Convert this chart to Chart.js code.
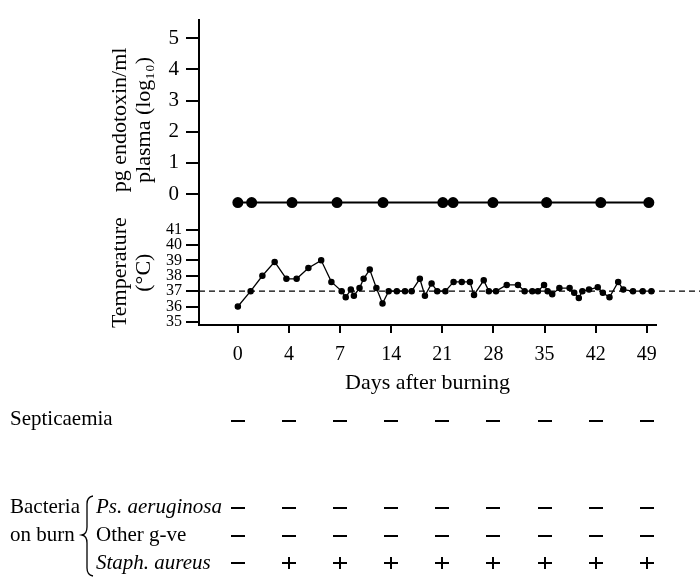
<!DOCTYPE html>
<html>
<head>
<meta charset="utf-8">
<script src="https://cdn.jsdelivr.net/npm/chart.js@4.4.1/dist/chart.umd.min.js"></script>
<style>
  html, body { margin: 0; padding: 0; background: #fff; }
</style>
</head>
<body>
<canvas id="fig" width="700" height="578"></canvas>
<script>
// day axis is not to scale: ticks are evenly spaced, x values below are in tick units
const dayLabels = ['0', '4', '7', '14', '21', '28', '35', '42', '49'];

const endoX = [0, 0.27, 1.06, 1.94, 2.84, 4.01, 4.21, 4.99, 6.04, 7.10, 8.04];
const endoY = [-0.27, -0.27, -0.27, -0.27, -0.27, -0.27, -0.27, -0.27, -0.27, -0.27, -0.27];

const tempX = [0, 0.25, 0.48, 0.72, 0.95, 1.15, 1.38, 1.63, 1.83, 2.03,
               2.11, 2.21, 2.27, 2.38, 2.46, 2.58, 2.71, 2.83, 2.95, 3.11,
               3.27, 3.40, 3.56, 3.66, 3.79, 3.90, 4.06, 4.22, 4.38, 4.54,
               4.62, 4.81, 4.91, 5.05, 5.26, 5.48, 5.61, 5.76, 5.87, 5.99,
               6.06, 6.15, 6.29, 6.49, 6.58, 6.67, 6.74, 6.87, 7.04, 7.14,
               7.27, 7.44, 7.54, 7.73, 7.92, 8.09];
const tempY = [36.0, 37.0, 38.0, 38.9, 37.8, 37.8, 38.5, 39.0, 37.6, 37.0,
               36.6, 37.1, 36.7, 37.2, 37.8, 38.4, 37.2, 36.2, 37.0, 37.0,
               37.0, 37.0, 37.8, 36.7, 37.5, 37.0, 37.0, 37.6, 37.6, 37.6,
               36.75, 37.7, 37.0, 37.0, 37.4, 37.4, 37.0, 37.0, 37.0, 37.4,
               37.0, 36.8, 37.2, 37.2, 36.9, 36.55, 37.0, 37.1, 37.25, 36.9,
               36.6, 37.6, 37.1, 37.0, 37.0, 37.0];

const endoTicks = [0, 1, 2, 3, 4, 5];
const tempTicks = [35, 36, 37, 38, 39, 40, 41];
const normalTemp = 37;

const septicaemia  = ['−', '−', '−', '−', '−', '−', '−', '−', '−'];
const psAeruginosa = ['−', '−', '−', '−', '−', '−', '−', '−', '−'];
const otherGve     = ['−', '−', '−', '−', '−', '−', '−', '−', '−'];
const staphAureus  = ['−', '+', '+', '+', '+', '+', '+', '+', '+'];

const serif = 'Liberation Serif';

const toPoints = (xs, ys) => xs.map((x, i) => ({ x: x, y: ys[i] }));

// dashed 37 °C line, runs past the axis to the page edge
const refLine = {
    id: 'refLine',
    beforeDatasetsDraw(chart) {
        const ctx = chart.ctx;
        const y = chart.scales.yT.getPixelForValue(normalTemp);
        ctx.save();
        ctx.strokeStyle = '#000';
        ctx.lineWidth = 1.3;
        ctx.setLineDash([6, 4]);
        ctx.beginPath();
        ctx.moveTo(chart.chartArea.left, y);
        ctx.lineTo(chart.width, y);
        ctx.stroke();
        ctx.restore();
    }
};

// culture results table under the day axis
const cultureTable = {
    id: 'cultureTable',
    afterDraw(chart) {
        const ctx = chart.ctx;
        const xs = chart.scales.x;
        ctx.save();
        ctx.fillStyle = '#000';
        ctx.textBaseline = 'middle';

        ctx.font = `21px "${serif}"`;
        ctx.textAlign = 'left';
        ctx.fillText('Septicaemia', 10, 419);
        ctx.fillText('Bacteria', 10, 507);
        ctx.fillText('on burn', 10, 535);
        ctx.fillText('Other g-ve', 96, 535);
        ctx.font = `italic 21px "${serif}"`;
        ctx.fillText('Ps. aeruginosa', 96, 507);
        ctx.fillText('Staph. aureus', 96, 563);

        // brace
        ctx.strokeStyle = '#000';
        ctx.lineWidth = 1.3;
        ctx.beginPath();
        ctx.moveTo(93, 496);
        ctx.quadraticCurveTo(87, 497, 87, 504);
        ctx.lineTo(87, 527);
        ctx.quadraticCurveTo(87, 534, 82, 535);
        ctx.quadraticCurveTo(87, 536, 87, 543);
        ctx.lineTo(87, 568);
        ctx.quadraticCurveTo(87, 575, 93, 576);
        ctx.stroke();

        // − and + marks
        const rows = [[septicaemia, 421], [psAeruginosa, 508], [otherGve, 536], [staphAureus, 563]];
        rows.forEach(([vals, y]) => {
            vals.forEach((v, i) => {
                const x = Math.round(xs.getPixelForValue(i));
                ctx.fillRect(x - 7, y - 1, 14, 2);
                if (v === '+') ctx.fillRect(x - 1, y - 6, 2, 12);
            });
        });
        ctx.restore();
    }
};

new Chart(document.getElementById('fig').getContext('2d'), {
    type: 'scatter',
    data: {
        datasets: [
            {
                label: 'Endotoxin',
                data: toPoints(endoX, endoY),
                yAxisID: 'yE',
                showLine: true,
                borderColor: '#000',
                backgroundColor: '#000',
                borderWidth: 2,
                pointRadius: 4.5,
                pointHoverRadius: 4.5
            },
            {
                label: 'Temperature',
                data: toPoints(tempX, tempY),
                yAxisID: 'yT',
                showLine: true,
                borderColor: '#000',
                backgroundColor: '#000',
                borderWidth: 1.3,
                pointRadius: 2.6,
                pointHoverRadius: 2.6
            }
        ]
    },
    options: {
        responsive: false,
        devicePixelRatio: 1,
        animation: false,
        layout: { padding: { top: 7, right: 44, bottom: 183, left: 0 } },
        plugins: { legend: { display: false }, tooltip: { enabled: false } },
        scales: {
            x: {
                type: 'linear',
                min: -0.76,
                max: 8.18,
                afterBuildTicks: s => { s.ticks = dayLabels.map((_, i) => ({ value: i })); },
                afterFit: s => { s.height = 70; },
                border: { color: '#000', width: 2 },
                grid: { drawOnChartArea: false, color: '#000', lineWidth: 2, tickLength: 8 },
                ticks: {
                    color: '#000',
                    padding: 10,
                    maxRotation: 0,
                    autoSkip: false,
                    font: { family: serif, size: 20 },
                    callback: v => dayLabels[v]
                },
                title: {
                    display: true,
                    text: 'Days after burning',
                    color: '#000',
                    padding: 0,
                    font: { family: serif, size: 22, lineHeight: 1.1 }
                }
            },
            yT: {
                type: 'linear',
                position: 'left',
                stack: 'panels',
                stackWeight: 109,
                min: 34.8,
                max: 41.6,
                afterBuildTicks: s => { s.ticks = tempTicks.map(v => ({ value: v })); },
                afterFit: s => { s.width = 199; },
                border: { color: '#000', width: 2 },
                grid: { drawOnChartArea: false, color: '#000', lineWidth: 2, tickLength: 13 },
                ticks: { color: '#000', padding: 4, autoSkip: false, font: { family: serif, size: 16 } },
                title: {
                    display: true,
                    text: ['Temperature', '(°C)'],
                    color: '#000',
                    padding: { top: 108, bottom: 0 },
                    font: { family: serif, size: 22, lineHeight: 1.1 }
                }
            },
            yE: {
                type: 'linear',
                position: 'left',
                stack: 'panels',
                stackWeight: 209,
                min: -0.84,
                max: 5.6,
                afterBuildTicks: s => { s.ticks = endoTicks.map(v => ({ value: v })); },
                afterFit: s => { s.width = 199; },
                border: { color: '#000', width: 2 },
                grid: { drawOnChartArea: false, color: '#000', lineWidth: 2, tickLength: 13 },
                ticks: { color: '#000', padding: 7, autoSkip: false, font: { family: serif, size: 21 } },
                title: {
                    display: true,
                    text: ['pg endotoxin/ml', 'plasma (log₁₀)'],
                    color: '#000',
                    padding: { top: 108, bottom: 0 },
                    font: { family: serif, size: 22, lineHeight: 1.1 }
                }
            }
        }
    },
    plugins: [refLine, cultureTable]
});
</script>
</body>
</html>
